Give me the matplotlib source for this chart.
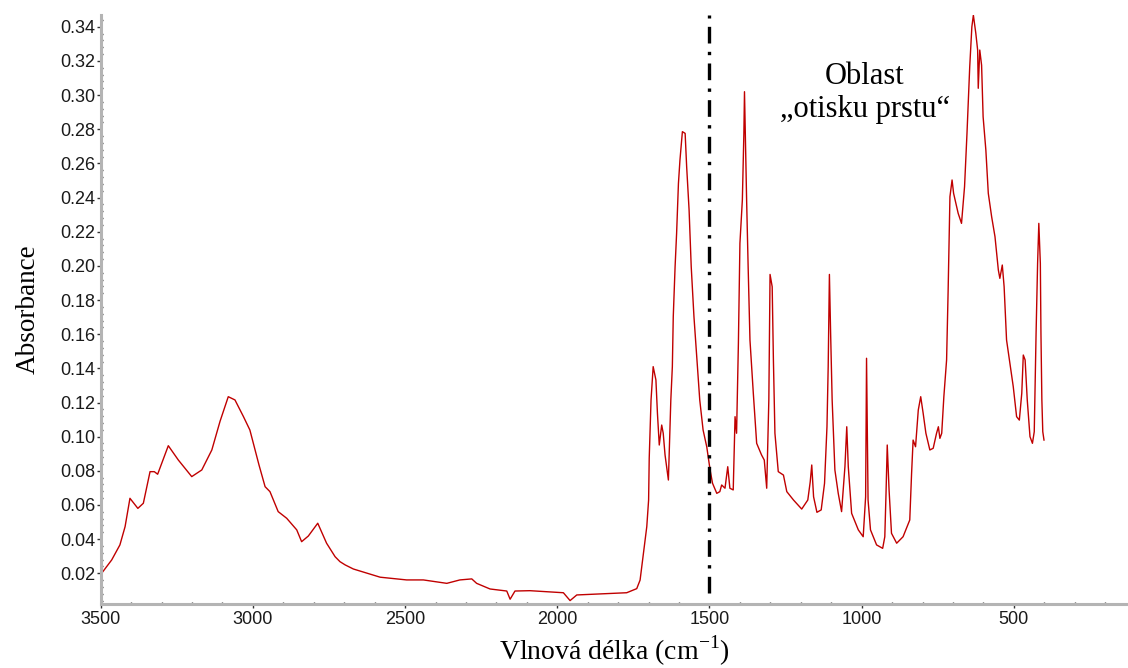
import matplotlib.pyplot as plt
from matplotlib.ticker import MultipleLocator, FormatStrFormatter

# IR spectrum (wavenumber in cm-1, absorbance)
wavenumber = [
    3500, 3497, 3464, 3437, 3420, 3404, 3378, 3360, 3338, 3324, 3313, 3278,
    3245, 3201, 3168, 3135, 3108, 3081, 3059, 3031, 3010, 2993, 2980, 2960,
    2944, 2917, 2889, 2856, 2840, 2818, 2787, 2758, 2730, 2714, 2697, 2670,
    2582, 2495, 2440, 2363, 2320, 2281, 2265, 2221, 2166, 2155, 2139, 2090,
    2035, 1980, 1958, 1936, 1860, 1772, 1739, 1728, 1717, 1706, 1700, 1698,
    1692, 1685, 1676, 1671, 1665, 1657, 1652, 1646, 1635, 1627, 1622, 1619,
    1613, 1608, 1602, 1597, 1589, 1580, 1575, 1567, 1560, 1551, 1542, 1532,
    1521, 1509, 1498, 1490, 1476, 1466, 1460, 1449, 1440, 1433, 1422, 1416,
    1411, 1405, 1400, 1392, 1387, 1385, 1378, 1373, 1367, 1356, 1345, 1329,
    1320, 1312, 1305, 1301, 1294, 1290, 1285, 1274, 1257, 1246, 1224, 1197,
    1177, 1169, 1164, 1158, 1147, 1133, 1122, 1114, 1110, 1106, 1102, 1097,
    1088, 1077, 1066, 1055, 1049, 1044, 1033, 1011, 995, 987, 984, 979,
    971, 951, 931, 924, 920, 916, 910, 902, 885, 864, 842, 836,
    831, 823, 814, 806, 798, 789, 776, 765, 754, 748, 743, 737,
    730, 721, 716, 710, 703, 698, 683, 672, 662, 654, 645, 638,
    633, 625, 619, 617, 612, 606, 601, 592, 584, 573, 562, 551,
    546, 538, 532, 530, 524, 502, 491, 482, 474, 469, 463, 456,
    447, 439, 433, 427, 422, 418, 413, 411, 408, 405, 401,
]
absorbance = [
    0.0195, 0.0200, 0.0278, 0.0366, 0.0473, 0.0639, 0.0580, 0.0610, 0.0795, 0.0795, 0.0780, 0.0947,
    0.0863, 0.0766, 0.0805, 0.0922, 0.1090, 0.1234, 0.1215, 0.1117, 0.1039, 0.0922, 0.0834, 0.0707,
    0.0678, 0.0561, 0.0522, 0.0454, 0.0385, 0.0418, 0.0493, 0.0376, 0.0297, 0.0268, 0.0249, 0.0225,
    0.0177, 0.0161, 0.0161, 0.0141, 0.0161, 0.0167, 0.0141, 0.0108, 0.0096, 0.0048, 0.0096, 0.0098,
    0.0092, 0.0086, 0.0040, 0.0073, 0.0079, 0.0086, 0.0110, 0.0160, 0.0317, 0.0473, 0.0629, 0.0873,
    0.1215, 0.1410, 0.1332, 0.1137, 0.0951, 0.1068, 0.1020, 0.0893, 0.0746, 0.1215, 0.1410, 0.1702,
    0.1995, 0.2191, 0.2483, 0.2620, 0.2786, 0.2776, 0.2581, 0.2327, 0.1995, 0.1702, 0.1468, 0.1215,
    0.1039, 0.0941, 0.0805, 0.0727, 0.0668, 0.0678, 0.0717, 0.0698, 0.0824, 0.0698, 0.0688, 0.1117,
    0.1020, 0.1547, 0.2132, 0.2386, 0.2776, 0.3020, 0.2386, 0.1995, 0.1566, 0.1254, 0.0961, 0.0893,
    0.0863, 0.0698, 0.1215, 0.1950, 0.1878, 0.1450, 0.1020, 0.0795, 0.0775, 0.0678, 0.0629, 0.0576,
    0.0629, 0.0736, 0.0834, 0.0648, 0.0557, 0.0571, 0.0727, 0.1058, 0.1410, 0.1950, 0.1605, 0.1215,
    0.0805, 0.0668, 0.0561, 0.0824, 0.1058, 0.0824, 0.0551, 0.0454, 0.0414, 0.0648, 0.1459, 0.0629,
    0.0454, 0.0366, 0.0346, 0.0414, 0.0668, 0.0951, 0.0688, 0.0434, 0.0376, 0.0414, 0.0512, 0.0785,
    0.0980, 0.0941, 0.1156, 0.1234, 0.1137, 0.1020, 0.0922, 0.0932, 0.1020, 0.1058, 0.0990, 0.1020,
    0.1234, 0.1449, 0.1850, 0.2405, 0.2503, 0.2425, 0.2308, 0.2249, 0.2464, 0.2776, 0.3166, 0.3400,
    0.3468, 0.3362, 0.3264, 0.3040, 0.3264, 0.3175, 0.2873, 0.2678, 0.2425, 0.2288, 0.2171, 0.1976,
    0.1927, 0.2005, 0.1878, 0.1800, 0.1566, 0.1293, 0.1117, 0.1097, 0.1254, 0.1478, 0.1449, 0.1215,
    0.1000, 0.0961, 0.1029, 0.1605, 0.2015, 0.2249, 0.2015, 0.1605, 0.1215, 0.1029, 0.0980,
]

# border of the fingerprint region
divider_x = 1500
divider_bottom = 0.0085
region_label = "Oblast\n\u201eotisku prstu\u201c"
region_label_pos = (990, 0.3013)

fig = plt.figure(figsize=(11.28, 6.68), dpi=100)
ax = fig.add_axes([0.0893, 0.0958, 0.9107, 0.8817])

ax.plot(wavenumber, absorbance, color="#c00000", lw=1.0)

ax.plot([divider_x, divider_x], [divider_bottom, 0.3469], color="black",
        lw=2.4, dashes=(5, 2.5, 1, 2.5))

ax.text(region_label_pos[0], region_label_pos[1], region_label,
        ha="center", va="center", multialignment="center",
        family="Liberation Serif", fontsize=22, linespacing=1.15)

ax.set_xlim(3500, 125)
ax.set_ylim(0.0020, 0.3469)

ax.xaxis.set_major_locator(MultipleLocator(500))
ax.xaxis.set_minor_locator(MultipleLocator(100))
ax.yaxis.set_major_locator(MultipleLocator(0.02))
ax.yaxis.set_minor_locator(MultipleLocator(0.004))
ax.yaxis.set_major_formatter(FormatStrFormatter("%.2f"))

for side in ["top", "right"]:
    ax.spines[side].set_visible(False)
for side in ["left", "bottom"]:
    ax.spines[side].set_color("#b4b4b4")
    ax.spines[side].set_linewidth(2.2)

ax.tick_params(which="major", direction="out", length=3, width=1,
               color="#333333", labelsize=13, labelcolor="#1a1a1a")
ax.tick_params(axis="x", which="major", pad=2)
ax.tick_params(axis="y", which="major", pad=1)
ax.tick_params(which="minor", direction="in", length=1.5, width=1,
               color="#333333")
for lbl in ax.get_xticklabels() + ax.get_yticklabels():
    lbl.set_family("Liberation Sans")

ax.set_ylabel("Absorbance", family="Liberation Serif", fontsize=19.5, labelpad=14)
ax.set_xlabel(r"Vlnová délka (cm$^{\mathregular{-1}}$)", family="Liberation Serif",
              fontsize=20, labelpad=4)

fig.savefig("out.png", dpi=100)
